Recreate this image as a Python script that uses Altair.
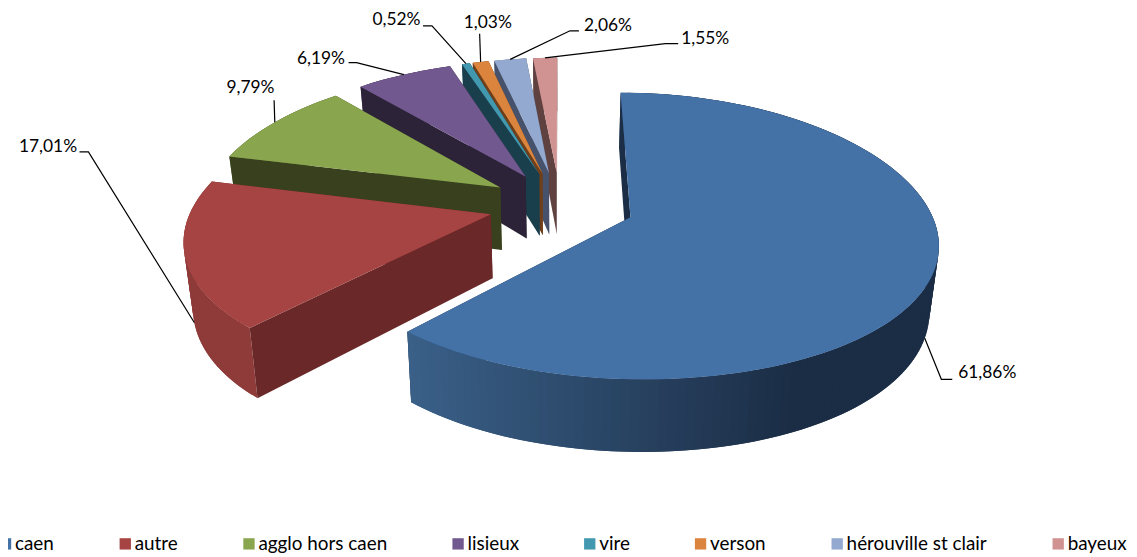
import math
import altair as alt

CATEGORIES = ["caen", "autre", "agglo hors caen", "lisieux", "vire", "verson", "hérouville st clair", "bayeux"]
VALUES = [61.86, 17.01, 9.79, 6.19, 0.52, 1.03, 2.06, 1.55]
LABELS = ["61,86%", "17,01%", "9,79%", "6,19%", "0,52%", "1,03%", "2,06%", "1,55%"]
TOP_COLORS = ["#4471A6", "#A54442", "#89A54E", "#71588F", "#4198AF", "#DB843D", "#93A9CF", "#D19392"]
RADIAL_COLORS = ["#1B2E46", "#6A2828", "#38401D", "#2D2338", "#1A3F4C", "#6E3F1A", "#46526B", "#5F4140"]
WALL_LIGHT = ["#3A6088", "#8E3B39", "#5E7236", "#4D3C62", "#2A6878", "#96592A", "#64748E", "#8F6564"]
WALL_DARK = ["#1B2D45", "#7E3432", "#4C5D2C", "#3E3050", "#215462", "#7A4822", "#515E74", "#745251"]

# Layout of labels: left edge and middle of each text, then the elbow of its leader line
LABEL_POS = [(963, 375), (17, 147), (226, 88), (297, 58), (373, 19), (465, 22), (586, 25), (684, 38)]
LEADER_START = [(957, 381), (78, 152), (274, 100), (349, 62), (424, 25), (481, 33), (581, 30), (681, 43)]
LEADER_ELBOW = [(946, 381), (87, 152), (274, 100), (357, 62), (433, 25), (481, 33), (572, 30), (668, 43)]
LEADER_ON_BASE = [True, True, False, False, False, False, False, False]

# Perspective model of the exploded pie
CX, CY = 562.0, 205.0
AX, BY = 300.0, 138.5
PERSP_X = 0.16
PERSP_Y = 0.13
EXPLODE = [0.25, 0.24, 0.24, 0.24, 0.24, 0.24, 0.24, 0.24]
BASE_SHRINK = 0.975
H0, H1 = 64.0, 0.13


def top_point(u, v):
    return (CX + AX * u / (1 + PERSP_X * v), CY - BY * v / (1 + PERSP_Y * v))


def base_point(u, v):
    x, y = top_point(u, v)
    return (CX + (x - CX) * BASE_SHRINK, y + H0 * (1 - H1 * v))


def mix(a, b, t):
    t = max(0.0, min(1.0, t))
    ca = [int(a[i:i + 2], 16) for i in (1, 3, 5)]
    cb = [int(b[i:i + 2], 16) for i in (1, 3, 5)]
    return "#" + "".join(f"{round(p + (q - p) * t):02x}" for p, q in zip(ca, cb))


def feature(coords, color=None, category=None, closed=True):
    pts = [list(p) for p in coords]
    if closed:
        geometry = {"type": "Polygon", "coordinates": [pts + [pts[0]]]}
    else:
        geometry = {"type": "LineString", "coordinates": pts}
    out = {"type": "Feature", "geometry": geometry, "properties": {}}
    if color:
        out["color"] = color
    if category:
        out["category"] = category
    return out


total = sum(VALUES)
walls, tops, leaders, label_rows = [], [], [], []
start = 0.0
slices = []
for i, val in enumerate(VALUES):
    end = start + val / total * 2 * math.pi
    mid = (start + end) / 2
    ox, oy = EXPLODE[i] * math.sin(mid), EXPLODE[i] * math.cos(mid)
    n = max(2, int((end - start) / math.radians(1.5)))
    rim = [(ox + math.sin(start + (end - start) * k / n), oy + math.cos(start + (end - start) * k / n)) for k in range(n + 1)]
    slices.append((i, ox, oy, rim, mid))
    start = end


def radial_wall(apex, edge, color):
    return feature([top_point(*apex), top_point(*edge), base_point(*edge), base_point(*apex)], color)


for i, ox, oy, rim, mid in reversed(slices):
    apex = (ox, oy)
    walls.append(radial_wall(apex, rim[-1], RADIAL_COLORS[i]))
    for k in range(len(rim) - 1):
        a, b = rim[k], rim[min(k + 2, len(rim) - 1)]
        xm = (top_point(*a)[0] + top_point(*rim[k + 1])[0]) / 2
        shade = mix(WALL_LIGHT[i], WALL_DARK[i], (xm - 410) / 390)
        walls.append(feature([top_point(*a), top_point(*b), base_point(*b), base_point(*a)], shade))
    walls.append(radial_wall(apex, rim[0], RADIAL_COLORS[i]))
    tops.append(feature([top_point(*apex)] + [top_point(*p) for p in rim], category=CATEGORIES[i]))
    rim_mid = (ox + math.sin(mid), oy + math.cos(mid))
    tip = base_point(*rim_mid) if LEADER_ON_BASE[i] else top_point(*rim_mid)
    leaders.append(feature([LEADER_START[i], LEADER_ELBOW[i], tip], closed=False))
    label_rows.append({"text": LABELS[i], "lon": LABEL_POS[i][0], "lat": LABEL_POS[i][1]})

wall_layer = alt.Chart(alt.Data(values=walls)).mark_geoshape(strokeWidth=0).encode(
    fill=alt.Fill("color:N", scale=None),
)
top_layer = alt.Chart(alt.Data(values=tops)).mark_geoshape(strokeWidth=0).encode(
    color=alt.Color(
        "category:N",
        sort=CATEGORIES,
        scale=alt.Scale(domain=CATEGORIES, range=TOP_COLORS),
        legend=alt.Legend(
            title=None, orient="none", legendX=-12, legendY=528, padding=0, direction="horizontal", columns=8,
            columnPadding=61.6, symbolType="square", symbolSize=130, symbolStrokeWidth=0, labelOffset=0,
            labelFont="Lato", labelFontSize=19, labelColor="#000000", labelLimit=400,
        ),
    )
)
leader_layer = alt.Chart(alt.Data(values=leaders)).mark_geoshape(filled=False, stroke="#000000", strokeWidth=1.2)
label_layer = alt.Chart(alt.Data(values=label_rows)).mark_text(
    align="left", baseline="middle", font="Lato", fontSize=17.5, color="#000000"
).encode(longitude="lon:Q", latitude="lat:Q", text="text:N")

chart = (
    alt.layer(wall_layer, top_layer, leader_layer, label_layer)
    .project(type="identity", scale=1, translate=[-6, -9])
    .properties(width=1129, height=548, padding=0, autosize=alt.AutoSizeParams(type="none"))
    .configure_view(stroke=None)
)

chart.save("out.html", embed_options={"renderer": "svg", "actions": False})
